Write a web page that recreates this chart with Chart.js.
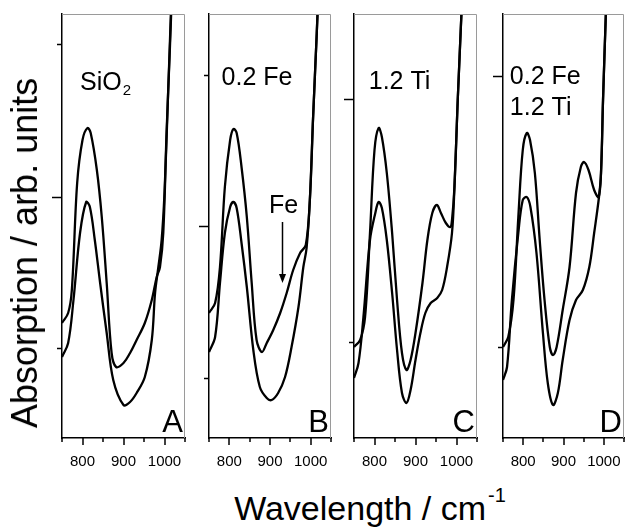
<!DOCTYPE html>
<html>
<head>
<meta charset="utf-8">
<script src="https://cdn.jsdelivr.net/npm/chart.js@4.4.0/dist/chart.umd.min.js"></script>
<style>
    body { margin: 0; background: #fff; }
    #wrap { position: relative; width: 626px; height: 528px; overflow: hidden; background: #fff;
            font-family: "Liberation Sans", Arial, sans-serif; color: #000; }
    #wrap canvas { position: absolute; top: 0; }
    .ytitle { position: absolute; left: 25px; top: 253px; white-space: nowrap; font-size: 36px;
              transform: translate(-50%, -50%) rotate(-90deg); }
    .xtitle { position: absolute; left: 370px; top: 508px; white-space: nowrap; font-size: 34px;
              transform: translate(-50%, -50%); }
    .xtitle sup { font-size: 20px; position: relative; top: -6px; margin-left: 2px; }
</style>
</head>
<body>
<div id="wrap">
    <canvas id="panelA"></canvas>
    <canvas id="panelB"></canvas>
    <canvas id="panelC"></canvas>
    <canvas id="panelD"></canvas>
    <div class="ytitle">Absorption / arb. units</div>
    <div class="xtitle">Wavelength / cm<sup>-1</sup></div>
</div>
<script>
// Trục x (số sóng, cm-1)
const xTicks = [750, 800, 850, 900, 950, 1000, 1050];
const xLabels = [800, 900, 1000];

// Panel A - SiO2
const wnAUp = [750, 765, 774, 787, 800, 812, 820, 835, 847, 859, 871, 882, 900, 916, 932, 952, 969, 981, 989, 997, 1005, 1013, 1021];
const absAUp = [1.15, 1.25, 1.48, 2.55, 2.98, 3.10, 3.05, 2.68, 2.21, 1.55, 0.85, 0.71, 0.75, 0.85, 0.98, 1.15, 1.38, 1.61, 1.71, 2.05, 3.05, 3.88, 4.78];
const wnALow = [750, 765, 778, 794, 809, 818, 830, 843, 859, 875, 900, 916, 932, 952, 969, 977, 985, 993, 1000, 1008, 1016];
const absALow = [0.81, 0.95, 1.38, 2.05, 2.36, 2.31, 1.98, 1.55, 1.05, 0.58, 0.33, 0.36, 0.45, 0.61, 0.98, 1.45, 1.71, 1.98, 2.45, 3.35, 4.30];
const yTicksA = [0.90, 2.41, 3.94];
const yMajorA = [false, true, false];

// Panel B - 0.2 Fe
const wnBUp = [750, 765, 777, 789, 802, 810, 818, 830, 843, 855, 867, 880, 892, 908, 925, 941, 957, 974, 988, 998, 1006, 1015, 1023];
const absBUp = [1.25, 1.35, 1.71, 2.51, 2.98, 3.09, 3.05, 2.71, 2.21, 1.55, 0.98, 0.86, 0.95, 1.08, 1.25, 1.45, 1.68, 1.85, 1.93, 2.38, 3.21, 4.05, 4.88];
const wnBLow = [750, 765, 777, 789, 802, 810, 818, 830, 843, 859, 875, 892, 904, 920, 937, 953, 970, 982, 990, 998, 1006, 1015, 1023];
const absBLow = [0.86, 1.01, 1.55, 2.05, 2.31, 2.36, 2.30, 1.95, 1.51, 0.88, 0.51, 0.40, 0.38, 0.45, 0.61, 0.91, 1.31, 1.71, 1.90, 2.38, 3.21, 4.05, 4.88];
const yTicksB = [0.60, 2.12, 3.63];
const yMajorB = [false, true, false];

// Panel C - 1.2 Ti
const wnCUp = [750, 765, 777, 789, 800, 810, 818, 830, 843, 855, 867, 878, 888, 900, 917, 929, 941, 952, 962, 974, 985, 989, 995, 1003, 1012, 1020];
const absCUp = [0.91, 0.98, 1.21, 2.05, 2.88, 3.10, 3.01, 2.65, 2.05, 1.38, 0.85, 0.68, 0.78, 1.05, 1.55, 1.98, 2.25, 2.33, 2.25, 2.15, 2.11, 2.18, 2.51, 3.38, 4.24, 5.08];
const wnCLow = [750, 761, 773, 789, 802, 810, 818, 830, 843, 855, 867, 878, 888, 900, 912, 924, 937, 953, 965, 977, 989, 995, 1003, 1012, 1020];
const absCLow = [0.60, 0.75, 1.21, 1.98, 2.25, 2.36, 2.30, 1.98, 1.45, 0.88, 0.45, 0.35, 0.48, 0.78, 1.05, 1.25, 1.35, 1.40, 1.48, 1.71, 2.05, 2.51, 3.38, 4.24, 5.08];
const yTicksC = [0.96, 3.39];
const yMajorC = [false, true];

// Panel D - 0.2 Fe + 1.2 Ti
const wnDUp = [750, 763, 776, 788, 799, 809, 817, 829, 841, 853, 866, 874, 883, 898, 915, 931, 943, 951, 962, 976, 987, 993, 998, 1005, 1012];
const absDUp = [0.91, 1.01, 1.38, 2.21, 2.88, 3.05, 2.98, 2.65, 1.98, 1.38, 0.91, 0.83, 0.91, 1.28, 1.71, 2.45, 2.71, 2.76, 2.68, 2.48, 2.41, 2.65, 3.38, 4.24, 5.08];
const wnDLow = [750, 760, 772, 788, 799, 809, 818, 833, 849, 861, 874, 886, 898, 915, 931, 948, 964, 976, 988, 993, 998, 1005, 1012];
const absDLow = [0.58, 0.71, 1.38, 2.05, 2.38, 2.41, 2.31, 1.85, 1.05, 0.55, 0.33, 0.45, 0.78, 1.18, 1.38, 1.48, 1.71, 2.05, 2.41, 2.65, 3.38, 4.24, 5.08];
const yTicksD = [0.91, 3.62];
const yMajorD = [false, true];

const FONT = '"Liberation Sans", Arial, sans-serif';

// Vẽ khung, vạch chia, nhãn trong panel
const decoPlugin = {
    id: 'deco',
    afterDraw(chart, args, opts) {
        const ctx = chart.ctx;
        const a = chart.chartArea;
        const xs = chart.scales.x, ys = chart.scales.y;
        ctx.save();
        // khung trên + phải màu xám
        ctx.strokeStyle = '#9a9a9a';
        ctx.lineWidth = 1;
        ctx.beginPath();
        ctx.moveTo(a.left, a.top + 0.5);
        ctx.lineTo(a.right - 0.5, a.top + 0.5);
        ctx.lineTo(a.right - 0.5, a.bottom);
        ctx.stroke();

        // vạch chia trục x, y
        ctx.strokeStyle = '#000';
        ctx.lineWidth = 1.5;
        xTicks.forEach(v => {
            const px = Math.round(xs.getPixelForValue(v));
            const len = xLabels.includes(v) ? 7 : 4;
            ctx.beginPath();
            ctx.moveTo(px, a.bottom);
            ctx.lineTo(px, a.bottom + len);
            ctx.stroke();
        });
        opts.yTicks.forEach((v, i) => {
            const py = Math.round(ys.getPixelForValue(v)) + 0.5;
            const len = opts.yMajor[i] ? 10 : 5;
            ctx.beginPath();
            ctx.moveTo(a.left, py);
            ctx.lineTo(a.left - len, py);
            ctx.stroke();
        });

        // nhãn
        ctx.fillStyle = '#000';
        ctx.textBaseline = 'middle';
        ctx.textAlign = 'left';
        opts.labels.forEach(l => {
            ctx.font = '25px ' + FONT;
            const px = xs.getPixelForValue(l.x), py = ys.getPixelForValue(l.y);
            ctx.fillText(l.text, px, py);
            if (l.sub) {
                const w = ctx.measureText(l.text).width;
                ctx.font = '15px ' + FONT;
                ctx.fillText(l.sub, px + w + 1, py + 8);
            }
        });

        // chữ cái panel
        ctx.font = '31px ' + FONT;
        ctx.textAlign = 'right';
        ctx.textBaseline = 'alphabetic';
        ctx.fillText(opts.letter, a.right - 2, a.bottom - 6);

        // mũi tên Fe
        if (opts.arrow) {
            const ar = opts.arrow;
            const px = Math.round(xs.getPixelForValue(ar.x)) + 0.5;
            const y1 = ys.getPixelForValue(ar.y1), y2 = ys.getPixelForValue(ar.y2);
            ctx.font = '25px ' + FONT;
            ctx.textAlign = 'center';
            ctx.textBaseline = 'middle';
            ctx.fillText(ar.text, px + 1, ys.getPixelForValue(ar.textY));
            ctx.lineWidth = 1.5;
            ctx.beginPath();
            ctx.moveTo(px, y1);
            ctx.lineTo(px, y2 - 6);
            ctx.stroke();
            ctx.beginPath();
            ctx.moveTo(px - 3.5, y2 - 9);
            ctx.lineTo(px + 3.5, y2 - 9);
            ctx.lineTo(px, y2);
            ctx.closePath();
            ctx.fill();
        }
        ctx.restore();
    }
};

function toPoints(wn, vals) {
    return wn.map((w, i) => ({ x: w, y: vals[i] }));
}

function makePanel(id, left, right, spec) {
    const cv = document.getElementById(id);
    const padL = 20, padR = 3;
    cv.style.left = (left - padL) + 'px';
    cv.width = right - left + padL + padR;
    cv.height = 480;
    const line = {
        borderColor: '#000',
        borderWidth: 2.3,
        pointRadius: 0,
        tension: 0.35,
        fill: false
    };
    return new Chart(cv.getContext('2d'), {
        type: 'line',
        data: {
            datasets: [
                Object.assign({ data: toPoints(spec.wnUp, spec.up) }, line),
                Object.assign({ data: toPoints(spec.wnLow, spec.low) }, line)
            ]
        },
        options: {
            responsive: false,
            animation: false,
            layout: { padding: { left: 0, right: padR, top: 14, bottom: 0 } },
            plugins: {
                legend: { display: false },
                tooltip: { enabled: false },
                deco: spec.deco
            },
            scales: {
                x: {
                    type: 'linear',
                    min: 750,
                    max: 1050,
                    grid: { display: false, drawTicks: false },
                    border: { color: '#000', width: 1.5 },
                    afterBuildTicks: ax => { ax.ticks = xTicks.map(v => ({ value: v })); },
                    ticks: {
                        autoSkip: false,
                        maxRotation: 0,
                        padding: 15,
                        color: '#000',
                        font: { size: 15, family: FONT },
                        callback: v => xLabels.includes(v) ? String(v) : ''
                    },
                    afterFit: ax => {
                        ax.height = 42;
                        ax.paddingLeft = 0;
                        ax.paddingRight = 0;
                    }
                },
                y: {
                    type: 'linear',
                    min: 0,
                    max: 4.24,
                    grid: { display: false, drawTicks: false },
                    border: { color: '#000', width: 1.5 },
                    ticks: { display: false },
                    afterFit: ax => { ax.width = padL; }
                }
            }
        },
        plugins: [decoPlugin]
    });
}

makePanel('panelA', 62, 185, {
    wnUp: wnAUp, up: absAUp, wnLow: wnALow, low: absALow,
    deco: { yTicks: yTicksA, yMajor: yMajorA, letter: 'A',
            labels: [{ text: 'SiO', sub: '2', x: 794, y: 3.55 }] }
});
makePanel('panelB', 209, 331, {
    wnUp: wnBUp, up: absBUp, wnLow: wnBLow, low: absBLow,
    deco: { yTicks: yTicksB, yMajor: yMajorB, letter: 'B',
            labels: [{ text: '0.2 Fe', x: 781, y: 3.60 }],
            arrow: { text: 'Fe', x: 929, textY: 2.32, y1: 2.16, y2: 1.55 } }
});
makePanel('panelC', 354, 477, {
    wnUp: wnCUp, up: absCUp, wnLow: wnCLow, low: absCLow,
    deco: { yTicks: yTicksC, yMajor: yMajorC, letter: 'C',
            labels: [{ text: '1.2 Ti', x: 786, y: 3.56 }] }
});
makePanel('panelD', 503, 624, {
    wnUp: wnDUp, up: absDUp, wnLow: wnDLow, low: absDLow,
    deco: { yTicks: yTicksD, yMajor: yMajorD, letter: 'D',
            labels: [{ text: '0.2 Fe', x: 767, y: 3.61 }, { text: '1.2 Ti', x: 767, y: 3.30 }] }
});
</script>
</body>
</html>
